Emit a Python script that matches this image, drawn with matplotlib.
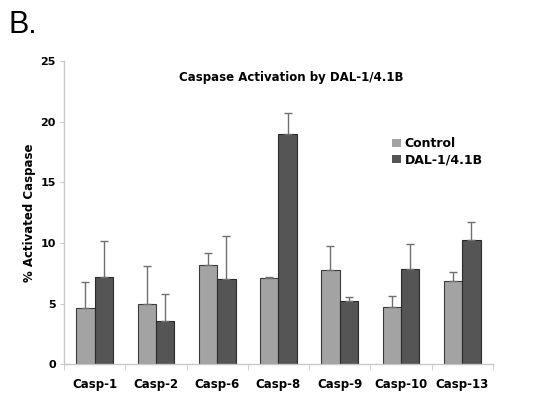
import matplotlib
matplotlib.use("Agg")
import matplotlib.pyplot as plt
import numpy as np

categories = ["Casp-1", "Casp-2", "Casp-6", "Casp-8", "Casp-9", "Casp-10", "Casp-13"]
control = [4.62, 4.97, 8.16, 7.14, 7.77, 4.75, 6.87]
control_err = [2.14, 3.13, 0.99, 0.08, 1.95, 0.91, 0.77]
dal = [7.2, 3.54, 7.0, 18.96, 5.25, 7.83, 10.22]
dal_err = [3.0, 2.23, 3.58, 1.74, 0.3, 2.06, 1.51]
series_names = ["Control", "DAL-1/4.1B"]
yticks = [0, 5, 10, 15, 20, 25]

fig = plt.figure(figsize=(5.38, 4.0), dpi=100)
ax = fig.add_axes([0.119, 0.089, 0.797, 0.7585])

x = np.arange(len(categories))
w = 0.3
axis_col = "#c8c8c8"
err_col = "#707070"
ax.bar(x - w/2, control, w, color="#a3a3a3", edgecolor="#3a3a3a", linewidth=0.8,
       label=series_names[0], zorder=2)
ax.bar(x + w/2, dal, w, color="#555555", edgecolor="#2a2a2a", linewidth=0.8,
       label=series_names[1], zorder=2)
ax.errorbar(x - w/2, control, yerr=[np.zeros(len(control)), control_err], fmt="none",
            ecolor=err_col, elinewidth=1.0, capsize=3, capthick=1.0, zorder=3)
ax.errorbar(x + w/2, dal, yerr=[np.zeros(len(dal)), dal_err], fmt="none",
            ecolor=err_col, elinewidth=1.0, capsize=3, capthick=1.0, zorder=3)

ax.set_xlim(-0.5, len(categories) - 0.5)
ax.set_ylim(0, 25)
ax.set_yticks(yticks)
ax.set_yticklabels([str(t) for t in yticks], fontsize=8, fontweight="bold")
ax.set_xticks(x)
ax.set_xticklabels(categories, fontsize=8.5, fontweight="bold")
ax.tick_params(axis="x", length=0, pad=10)
ax.set_xticks(np.arange(len(categories) + 1) - 0.5, minor=True)
ax.tick_params(axis="x", which="minor", length=4, color=axis_col, direction="out")
ax.tick_params(axis="y", length=3, color=axis_col, pad=3)

for s in ["top", "right"]:
    ax.spines[s].set_visible(False)
for s in ["left", "bottom"]:
    ax.spines[s].set_color(axis_col)
    ax.spines[s].set_linewidth(1.0)

ax.set_ylabel("% Activated Caspase", fontsize=8.5, fontweight="bold", labelpad=3)
ax.text(0.531, 0.947, "Caspase Activation by DAL-1/4.1B", transform=ax.transAxes,
        ha="center", va="center", fontsize=8.5, fontweight="bold")

leg = ax.legend(loc="upper left", bbox_to_anchor=(0.753, 0.765), frameon=False,
                prop={"weight": "bold", "size": 9}, handlelength=0.7, handleheight=0.7,
                handletextpad=0.3, labelspacing=0.25, borderaxespad=0)
for h in leg.legend_handles:
    h.set_edgecolor("none")

fig.text(0.015, 0.975, "B.", fontsize=22, family="Liberation Sans", ha="left", va="top")

fig.savefig("out.png", dpi=100)
